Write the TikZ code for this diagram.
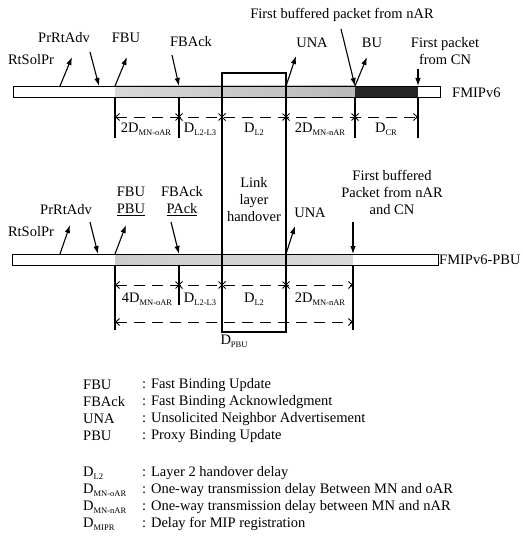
\documentclass[tikz,border=0pt]{standalone}
\usepackage{fontspec}
\setmainfont{Liberation Serif}
\usetikzlibrary{arrows.meta}
\newcommand\lsub[1]{\raisebox{-0.4ex}{\fontsize{8.5}{9}\selectfont #1}}
\begin{document}
\begin{tikzpicture}[x=1pt,y=-1pt,
  lbl/.style={font=\fontsize{14.5}{17}\selectfont, inner sep=0pt, align=center},
  leg/.style={font=\fontsize{14.5}{17}\selectfont, inner sep=0pt, anchor=west},
  ln/.style={line width=1.1pt},
  msg/.style={line width=1.1pt,-{Latex[length=8pt,width=5.5pt]}},
  dimline/.style={line width=0.9pt,dash pattern=on 11pt off 7pt,{Straight Barb[length=4pt,width=7pt]}-{Straight Barb[length=4pt,width=7pt]}},
  barbox/.style={draw,line width=1.1pt},
  xcross/.pic={\draw[line width=0.8pt] (-3.5pt,-3.5pt)--(3.5pt,3.5pt) (-3.5pt,3.5pt)--(3.5pt,-3.5pt);}
]
\useasboundingbox (0,0) rectangle (522,540);

% ---------- Top bar (FMIPv6) ----------
\fill[white] (13,86) rectangle (115,97);
\shade[left color=gray!30,right color=gray!55] (115,86) rectangle (355,97);
\fill[black!85] (355,86) rectangle (418,97);
\node[barbox,minimum width=427pt,minimum height=11pt,anchor=north west] (bar1) at (13,86) {};

% ---------- Bottom bar (FMIPv6-PBU) ----------
\shade[left color=gray!40,right color=gray!30] (115,254) rectangle (353,265);
\node[barbox,minimum width=426pt,minimum height=11pt,anchor=north west] (bar2) at (12,254) {};

% ---------- Link layer handover box ----------
\coordinate (h1) at (222,73);
\coordinate (h2) at (286,73);
\coordinate (h3) at (286,332);
\coordinate (h4) at (222,332);
\draw[ln] (h4) -- (h1) -- (h2) -- (h3) -- cycle;

% ---------- Top vertical ticks ----------
\foreach \x in {115,179,355,418} \draw[ln] (\x,97) -- (\x,138);

% ---------- Top dimension line ----------
\coordinate (d1a) at (115,117);
\coordinate (d1b) at (418,117);
\draw[dimline] (d1a) -- (d1b);
\foreach \x in {179,222,286,355} \pic at (\x,117) {xcross};
\node[lbl] (t1) at (146,129) {2D\lsub{MN-oAR}};
\node[lbl] (t2) at (200,129) {D\lsub{L2-L3}};
\node[lbl] (t3) at (254,129) {D\lsub{L2}};
\node[lbl] (t4) at (320,129) {2D\lsub{MN-nAR}};
\node[lbl] (t5) at (386,129) {D\lsub{CR}};

% ---------- Top labels ----------
\node[lbl] (rs1) at (31,60) {RtSolPr};
\node[lbl] (pr1) at (64,38) {PrRtAdv};
\node[lbl] (fbu1) at (126,38) {FBU};
\node[lbl] (fba1) at (191,42) {FBAck};
\node[lbl] (una1) at (312,43) {UNA};
\node[lbl] (fbp1) at (342,15) {First buffered packet from nAR};
\node[lbl] (bu1) at (372,43) {BU};
\node[lbl] (fcn1) at (445,51) {First packet\\from CN};
\node[lbl,anchor=west] (fm1) at (452,93) {FMIPv6};

\coordinate (a1s) at (60,86);   \coordinate (a1e) at (72,57);
\coordinate (a2s) at (90,52);   \coordinate (a2e) at (99,86);
\coordinate (a3s) at (115,86);  \coordinate (a3e) at (127,57);
\coordinate (a4s) at (172,55);  \coordinate (a4e) at (179,86);
\coordinate (a5s) at (286,86);  \coordinate (a5e) at (296,56);
\coordinate (a6s) at (341,29);  \coordinate (a6e) at (355,86);
\coordinate (a7s) at (355,86);  \coordinate (a7e) at (367,57);
\coordinate (a8s) at (418,69);  \coordinate (a8e) at (418,86);
\draw[msg] (a1s) -- (a1e);
\draw[msg] (a2s) -- (a2e);
\draw[msg] (a3s) -- (a3e);
\draw[msg] (a4s) -- (a4e);
\draw[msg] (a5s) -- (a5e);
\draw[msg] (a6s) -- (a6e);
\draw[msg] (a7s) -- (a7e);
\draw[msg] (a8s) -- (a8e);

% ---------- Bottom labels ----------
\node[lbl] (rs2) at (31,232) {RtSolPr};
\node[lbl] (pr2) at (66,210) {PrRtAdv};
\node[lbl] (fbu2) at (131,201) {FBU\\\underline{PBU}};
\node[lbl] (fba2) at (182,201) {FBAck\\\underline{PAck}};
\node[lbl] (llh) at (254,200) {Link\\layer\\handover};
\node[lbl] (una2) at (310,213) {UNA};
\node[lbl] (fbp2) at (392,192) {First buffered\\Packet from nAR\\and CN};
\node[lbl,anchor=west] (fm2) at (439,260) {FMIPv6-PBU};

\coordinate (b1s) at (60,254);  \coordinate (b1e) at (70,225);
\coordinate (b2s) at (90,222);  \coordinate (b2e) at (98,254);
\coordinate (b3s) at (115,254); \coordinate (b3e) at (126,225);
\coordinate (b4s) at (171,222); \coordinate (b4e) at (179,254);
\coordinate (b5s) at (286,254); \coordinate (b5e) at (295,226);
\coordinate (b6s) at (353,222); \coordinate (b6e) at (353,254);
\draw[msg] (b1s) -- (b1e);
\draw[msg] (b2s) -- (b2e);
\draw[msg] (b3s) -- (b3e);
\draw[msg] (b4s) -- (b4e);
\draw[msg] (b5s) -- (b5e);
\draw[msg] (b6s) -- (b6e);

% ---------- Bottom vertical ticks ----------
\draw[ln] (115,265) -- (115,330);
\draw[ln] (179,265) -- (179,305);
\draw[ln] (353,265) -- (353,330);

% ---------- Bottom dimension lines ----------
\coordinate (d2a) at (115,285);
\coordinate (d2b) at (353,285);
\draw[dimline] (d2a) -- (d2b);
\foreach \x in {179,222,286} \pic at (\x,285) {xcross};
\node[lbl] (u1) at (147,299) {4D\lsub{MN-oAR}};
\node[lbl] (u2) at (200,299) {D\lsub{L2-L3}};
\node[lbl] (u3) at (254,299) {D\lsub{L2}};
\node[lbl] (u4) at (320,299) {2D\lsub{MN-nAR}};

\coordinate (d3a) at (115,322);
\coordinate (d3b) at (353,322);
\draw[dimline] (d3a) -- (d3b);
\node[lbl] (dpbu) at (234,341) {D\lsub{PBU}};

% ---------- Legend ----------
\node[leg] (k1) at (83,385) {FBU};
\node[leg] (k2) at (83,402) {FBAck};
\node[leg] (k3) at (83,419) {UNA};
\node[leg] (k4) at (83,436) {PBU};
\node[leg] (k5) at (83,473) {D\lsub{L2}};
\node[leg] (k6) at (83,490) {D\lsub{MN-oAR}};
\node[leg] (k7) at (83,507) {D\lsub{MN-nAR}};
\node[leg] (k8) at (83,524) {D\lsub{MIPR}};
\node[leg] (v1) at (142,385) {: Fast Binding Update};
\node[leg] (v2) at (142,402) {: Fast Binding Acknowledgment};
\node[leg] (v3) at (142,419) {: Unsolicited Neighbor Advertisement};
\node[leg] (v4) at (142,436) {: Proxy Binding Update};
\node[leg] (v5) at (142,473) {: Layer 2 handover delay};
\node[leg] (v6) at (142,490) {: One-way transmission delay Between MN and oAR};
\node[leg] (v7) at (142,507) {: One-way transmission delay between MN and nAR};
\node[leg] (v8) at (142,524) {: Delay for MIP registration};
\end{tikzpicture}
\end{document}
